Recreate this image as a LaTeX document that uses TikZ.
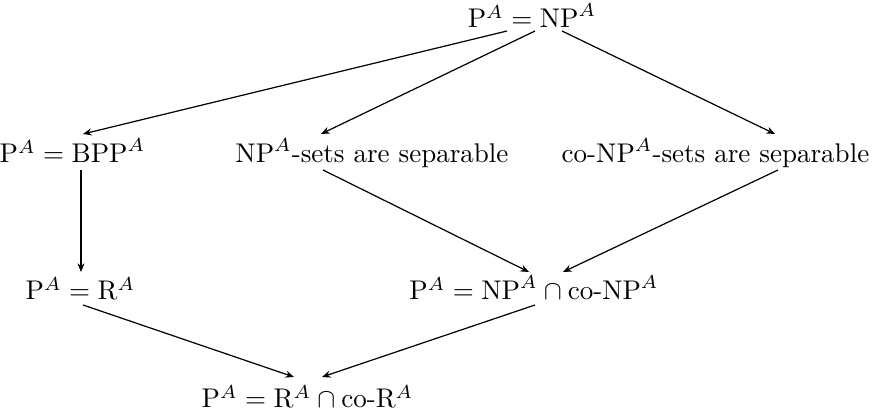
\documentclass[tikz,border=0pt]{standalone}
\usetikzlibrary{calc,arrows.meta}
\begin{document}
\begin{tikzpicture}[x=0.37pt,y=-0.37pt,
  lbl/.style={inner sep=0pt,anchor=base,font=\fontsize{10}{12}\selectfont},
  arr/.style={line width=0.45pt,-{Stealth[length=3.2pt,width=2.6pt]}}]
\useasboundingbox (0,0) rectangle (874,416);
\node[lbl] (top) at (532,28) {$\mathrm{P}^A=\mathrm{NP}^A$};
\node[lbl] (bpp) at (72.5,163) {$\mathrm{P}^A=\mathrm{BPP}^A$};
\node[lbl] (nps) at (372,163) {$\mathrm{NP}^A$-sets are separable};
\node[lbl] (conps) at (715.5,163) {co-$\mathrm{NP}^A$-sets are separable};
\node[lbl] (r) at (80.5,300) {$\mathrm{P}^A=\mathrm{R}^A$};
\node[lbl] (meet) at (534,300) {$\mathrm{P}^A=\mathrm{NP}^A\cap\mbox{co-}\mathrm{NP}^A$};
\node[lbl] (bot) at (307.5,408) {$\mathrm{P}^A=\mathrm{R}^A\cap\mbox{co-}\mathrm{R}^A$};
\draw[arr] ($(top.base)+(-25,3)$) -- ($(bpp.base)+(10.5,-29)$);
\draw[arr] ($(top.base)+(3,3)$) -- ($(nps.base)+(-51,-29)$);
\draw[arr] ($(top.base)+(30,3)$) -- ($(conps.base)+(59.5,-29)$);
\draw[arr] ($(bpp.base)+(8.5,7)$) -- ($(r.base)+(0.5,-28)$);
\draw[arr] ($(nps.base)+(-49,7)$) -- ($(meet.base)+(-5,-28)$);
\draw[arr] ($(conps.base)+(62.5,7)$) -- ($(meet.base)+(29,-28)$);
\draw[arr] ($(r.base)+(2.5,5)$) -- ($(bot.base)+(-13.5,-31)$);
\draw[arr] ($(meet.base)+(1,5)$) -- ($(bot.base)+(14.5,-31)$);
\end{tikzpicture}
\end{document}
